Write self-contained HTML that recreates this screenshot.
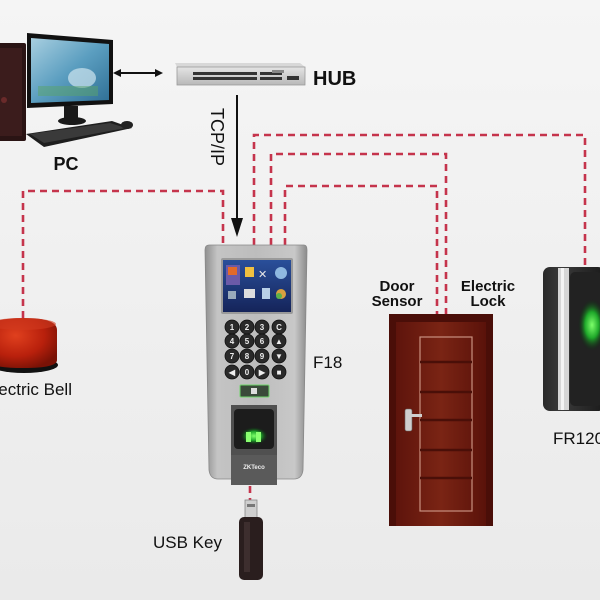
<!DOCTYPE html>
<html><head><meta charset="utf-8"><style>
html,body{margin:0;padding:0;background:#efefef;}
svg{display:block;}
text{font-family:"Liberation Sans",Arial,sans-serif;}
</style></head><body>
<svg width="600" height="600" viewBox="0 0 600 600" xmlns="http://www.w3.org/2000/svg">
<defs>
<linearGradient id="bg" x1="0" y1="0" x2="0" y2="1"><stop offset="0" stop-color="#f5f5f5"/><stop offset="1" stop-color="#eaeaea"/></linearGradient>
<linearGradient id="scr" x1="0" y1="0" x2="1" y2="1"><stop offset="0" stop-color="#a8cfe0"/><stop offset="0.5" stop-color="#5b9ec0"/><stop offset="1" stop-color="#2f6f95"/></linearGradient>
<linearGradient id="silver" x1="0" y1="0" x2="1" y2="0"><stop offset="0" stop-color="#8f8f8f"/><stop offset="0.12" stop-color="#c4c4c4"/><stop offset="0.5" stop-color="#bdbdbd"/><stop offset="0.88" stop-color="#c8c8c8"/><stop offset="1" stop-color="#8a8a8a"/></linearGradient>
<linearGradient id="lcd" x1="0" y1="0" x2="0" y2="1"><stop offset="0" stop-color="#2a4f9a"/><stop offset="1" stop-color="#15245a"/></linearGradient>
<linearGradient id="hub" x1="0" y1="0" x2="0" y2="1"><stop offset="0" stop-color="#e4e4e4"/><stop offset="1" stop-color="#b8b8b8"/></linearGradient>
<radialGradient id="green" cx="0.5" cy="0.5" r="0.5"><stop offset="0" stop-color="#7dff6a"/><stop offset="0.5" stop-color="#1fa82a"/><stop offset="1" stop-color="#0b2a10" stop-opacity="0"/></radialGradient>
<radialGradient id="bell" cx="0.4" cy="0.35" r="0.7"><stop offset="0" stop-color="#e0401e"/><stop offset="0.6" stop-color="#b8200c"/><stop offset="1" stop-color="#7a1206"/></radialGradient>
<linearGradient id="door" x1="0" y1="0" x2="1" y2="0"><stop offset="0" stop-color="#5e140c"/><stop offset="0.5" stop-color="#7a2414"/><stop offset="1" stop-color="#5a120a"/></linearGradient>
<linearGradient id="fr" x1="0" y1="0" x2="1" y2="0"><stop offset="0" stop-color="#2a2a2a"/><stop offset="0.3" stop-color="#3a3a3a"/><stop offset="1" stop-color="#1a1a1a"/></linearGradient>
</defs>
<rect width="600" height="600" fill="url(#bg)"/>

<!-- dashed connectors -->
<g fill="none" stroke="#c5344c" stroke-width="2.6" stroke-dasharray="7,5">
<polyline points="23,318 23,191 223,191 223,245"/>
<polyline points="254,245 254,135 585,135 585,266"/>
<polyline points="271,245 271,154 446,154 446,314"/>
<polyline points="285,245 285,186 437,186 437,314"/>
<line x1="250" y1="486" x2="250" y2="501"/>
</g>

<!-- PC tower -->
<rect x="-4" y="43" width="30" height="98" rx="2" fill="#2a1414"/>
<rect x="0" y="48" width="22" height="88" fill="#3b1c1c"/>
<circle cx="4" cy="100" r="3" fill="#6a2a2a"/>
<!-- monitor -->
<polygon points="27,33 113,40 113,104 27,108" fill="#111"/>
<polygon points="31,38 109,44 109,100 31,103" fill="url(#scr)"/>
<ellipse cx="82" cy="78" rx="14" ry="10" fill="#cfe6ef" opacity="0.7"/>
<rect x="38" y="86" width="60" height="10" fill="#5aa36a" opacity="0.5"/>
<rect x="64" y="106" width="14" height="14" fill="#1a1a1a"/>
<ellipse cx="72" cy="121" rx="14" ry="4" fill="#1a1a1a"/>
<!-- keyboard -->
<polygon points="26,134 112,121 132,128 44,147" fill="#1e1e1e"/>
<polygon points="30,134 110,123 126,128 44,143" fill="#3a3a3a"/>
<ellipse cx="127" cy="125" rx="6" ry="4" fill="#222"/>
<text x="66" y="170" font-size="18" font-weight="bold" text-anchor="middle" fill="#111">PC</text>

<!-- double arrow -->
<line x1="118" y1="73" x2="158" y2="73" stroke="#111" stroke-width="2"/>
<polygon points="113,73 121,69 121,77" fill="#111"/>
<polygon points="163,73 155,69 155,77" fill="#111"/>

<!-- HUB -->
<polygon points="175,63 300,63 305,67 177,67" fill="#d8d8d8"/>
<rect x="177" y="67" width="128" height="18" fill="url(#hub)" stroke="#9a9a9a" stroke-width="0.8"/>
<g fill="#333">
<rect x="193" y="72" width="64" height="3"/>
<rect x="193" y="77" width="64" height="3"/>
<rect x="260" y="72" width="22" height="3"/>
<rect x="260" y="77" width="22" height="3"/>
<rect x="272" y="70" width="12" height="3" fill="#888"/>
<rect x="287" y="76" width="12" height="4"/>
</g>
<text x="313" y="85" font-size="20" font-weight="bold" fill="#111">HUB</text>

<!-- TCP/IP arrow -->
<line x1="237" y1="95" x2="237" y2="222" stroke="#111" stroke-width="2"/>
<polygon points="237,237 231,218 243,218" fill="#111"/>
<text transform="translate(211,108) rotate(90)" font-size="18" fill="#111">TCP/IP</text>

<!-- F18 device -->
<path d="M209,245 L304,245 Q307,245 307,250 L303,470 Q302,479 294,479 L218,479 Q210,479 209,470 L205,250 Q205,245 209,245 Z" fill="url(#silver)" stroke="#888" stroke-width="0.8"/>
<rect x="221" y="258" width="72" height="56" rx="2" fill="#9a9a9a"/>
<rect x="223" y="260" width="68" height="52" fill="url(#lcd)"/>
<rect x="226" y="265" width="14" height="20" fill="#6b5aa8"/>
<rect x="228" y="267" width="9" height="8" fill="#e26a2a"/>
<rect x="245" y="267" width="9" height="10" fill="#f0c040"/>
<text x="258" y="278" font-size="11" fill="#e8e8e8">✕</text>
<circle cx="281" cy="273" r="6" fill="#8fb8e0"/>
<rect x="228" y="291" width="8" height="8" fill="#9ab"/>
<rect x="244" y="289" width="11" height="9" fill="#ddd"/>
<rect x="262" y="288" width="8" height="11" fill="#b8d0e8"/>
<circle cx="281" cy="294" r="5" fill="#d8a040"/>
<circle cx="279" cy="296" r="3" fill="#5bb04a"/>
<g fill="#2a2a2a" stroke="#111" stroke-width="0.8">
<circle cx="232" cy="327" r="7"/><circle cx="247" cy="327" r="7"/><circle cx="262" cy="327" r="7"/><circle cx="279" cy="327" r="7"/>
<circle cx="232" cy="341" r="7"/><circle cx="247" cy="341" r="7"/><circle cx="262" cy="341" r="7"/><circle cx="279" cy="341" r="7"/>
<circle cx="232" cy="356" r="7"/><circle cx="247" cy="356" r="7"/><circle cx="262" cy="356" r="7"/><circle cx="279" cy="356" r="7"/>
<circle cx="232" cy="372" r="7"/><circle cx="247" cy="372" r="7"/><circle cx="262" cy="372" r="7"/><circle cx="279" cy="372" r="7"/>
</g>
<g fill="#eee" font-size="8" font-weight="bold" text-anchor="middle">
<text x="232" y="330">1</text><text x="247" y="330">2</text><text x="262" y="330">3</text><text x="279" y="330">C</text>
<text x="232" y="344">4</text><text x="247" y="344">5</text><text x="262" y="344">6</text><text x="279" y="344">▲</text>
<text x="232" y="359">7</text><text x="247" y="359">8</text><text x="262" y="359">9</text><text x="279" y="359">▼</text>
<text x="232" y="375">◀</text><text x="247" y="375">0</text><text x="262" y="375">▶</text><text x="279" y="375">■</text>
</g>
<rect x="240" y="385" width="29" height="12" rx="1" fill="#3a4a3a" stroke="#6fd46a" stroke-width="1"/>
<rect x="251" y="388" width="6" height="6" fill="#ddd"/>
<rect x="231" y="405" width="46" height="80" fill="#505050"/>
<rect x="234" y="409" width="40" height="40" rx="4" fill="#1c1c1c"/>
<ellipse cx="254" cy="436" rx="14" ry="9" fill="url(#green)"/>
<rect x="246" y="432" width="5" height="10" fill="#8aff70"/>
<rect x="256" y="432" width="5" height="10" fill="#8aff70"/>
<rect x="231" y="455" width="46" height="30" fill="#5a5a5a"/>
<text x="254" y="469" font-size="6" font-weight="bold" fill="#eee" text-anchor="middle">ZKTeco</text>

<text x="313" y="368" font-size="17" fill="#111">F18</text>

<!-- USB key -->
<rect x="245" y="500" width="12" height="18" fill="#cfcfcf" stroke="#888" stroke-width="0.8"/>
<rect x="247" y="504" width="8" height="3" fill="#777"/>
<rect x="239" y="517" width="24" height="63" rx="5" fill="#2a1e1e"/>
<rect x="244" y="522" width="6" height="50" fill="#3d2e2e"/>
<text x="153" y="548" font-size="17" fill="#111">USB Key</text>

<!-- Door -->
<text x="397" y="291" font-size="15" font-weight="bold" fill="#111" text-anchor="middle">Door</text>
<text x="397" y="306" font-size="15" font-weight="bold" fill="#111" text-anchor="middle">Sensor</text>
<text x="488" y="291" font-size="15" font-weight="bold" fill="#111" text-anchor="middle">Electric</text>
<text x="488" y="306" font-size="15" font-weight="bold" fill="#111" text-anchor="middle">Lock</text>
<rect x="389" y="314" width="104" height="212" fill="#4a0e08"/>
<rect x="396" y="322" width="90" height="204" fill="url(#door)"/>
<rect x="420" y="337" width="52" height="174" fill="none" stroke="#c89080" stroke-width="1.2"/>
<g stroke="#4a0f08" stroke-width="2.5">
<line x1="420" y1="362" x2="472" y2="362"/>
<line x1="420" y1="392" x2="472" y2="392"/>
<line x1="420" y1="420" x2="472" y2="420"/>
<line x1="420" y1="450" x2="472" y2="450"/>
<line x1="420" y1="478" x2="472" y2="478"/>
</g>
<rect x="405" y="409" width="7" height="22" rx="2" fill="#cfcfcf" stroke="#666" stroke-width="0.6"/>
<rect x="409" y="414" width="13" height="3" fill="#cfcfcf"/>

<!-- FR1200 -->
<rect x="543" y="267" width="62" height="144" rx="7" fill="url(#fr)"/>
<rect x="558" y="268" width="11" height="142" fill="#d6d6d6"/>
<rect x="561" y="268" width="3" height="142" fill="#f4f4f4"/>
<rect x="570" y="272" width="32" height="134" rx="5" fill="#222"/>
<ellipse cx="592" cy="325" rx="14" ry="26" fill="url(#green)"/>
<text x="553" y="444" font-size="17" fill="#111">FR1200</text>

<!-- Electric bell -->
<ellipse cx="24" cy="365" rx="34" ry="8" fill="#111"/>
<path d="M-12,330 Q-12,318 24,318 Q57,318 57,330 L57,360 Q57,368 24,368 Q-12,368 -12,360 Z" fill="url(#bell)"/>
<ellipse cx="22" cy="324" rx="34" ry="6" fill="#d03a20" opacity="0.6"/>
<text x="72" y="395" font-size="17" fill="#111" text-anchor="end">Electric Bell</text>
</svg>
</body></html>
